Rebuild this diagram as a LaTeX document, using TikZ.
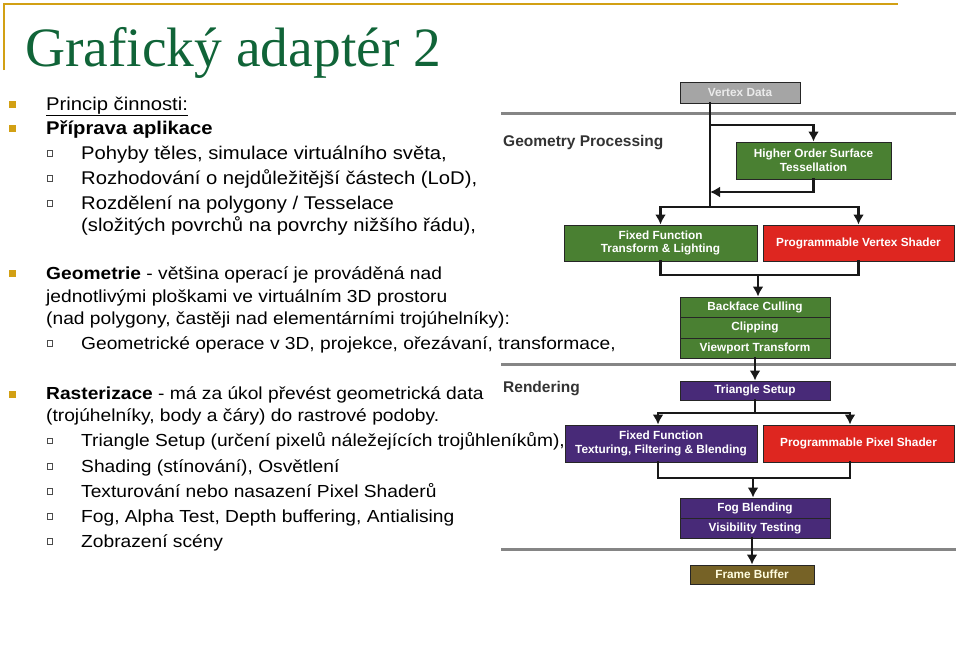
\documentclass[tikz,border=0pt]{standalone}
\usepackage{fontspec}
\setmainfont{Liberation Sans}[FakeStretch=1.1]
\newfontfamily\diagfont{Liberation Sans}
\newfontfamily\titlefont{Liberation Serif}
\usetikzlibrary{arrows.meta}
\definecolor{gold}{RGB}{210,160,20}
\definecolor{titlegreen}{RGB}{16,100,56}
\definecolor{stagegreen}{RGB}{74,128,50}
\definecolor{stagered}{RGB}{222,38,32}
\definecolor{stagepurple}{RGB}{72,42,120}
\definecolor{stagegray}{RGB}{165,165,165}
\definecolor{stageolive}{RGB}{118,98,38}
\begin{document}
\begin{tikzpicture}[x={(1pt,0pt)}, y={(0pt,-1pt)}, >={Latex[length=10pt,width=11pt]}]
  \tikzstyle{stage}=[draw=black!85, line width=1pt, inner sep=0pt, align=center, text=white, font=\diagfont\bfseries\fontsize{11.8}{13.5}\selectfont]
  \tikzstyle{txt}=[anchor=base west, inner sep=0pt, font=\fontsize{17.45}{21}\selectfont]
  \tikzstyle{txtbig}=[txt, font=\fontsize{18.4}{22}\selectfont]
  \tikzstyle{bul}=[fill=gold, minimum size=7pt, inner sep=0pt]
  \tikzstyle{sub}=[draw=black!70, line width=0.8pt, minimum size=5.5pt, inner sep=0pt]
  \tikzstyle{flow}=[line width=2.8pt, black!90, line cap=rect]
  \tikzstyle{divider}=[line width=3pt, black!48]
  \tikzstyle{phase}=[anchor=base west, inner sep=0pt, text=black!80, font=\diagfont\bfseries\fontsize{15.5}{18}\selectfont]

\useasboundingbox (0,0) rectangle (960,653);

\draw[gold, line width=2.5pt] (4,70) -- (4,4) -- (898,4);
\node[anchor=base west, inner sep=0pt, text=titlegreen, font=\titlefont\fontsize{55.5}{60}\selectfont] (title) at (25,66) {Grafický adaptér 2};

\node[bul] (b1) at (12.5,104) {};
\node[txtbig] (l1) at (46,110) {\underline{Princip činnosti:}};
\node[bul] (b2) at (12.5,128.5) {};
\node[txtbig] (l2) at (46,134) {\bfseries Příprava aplikace};
\node[sub] (c1) at (50,153.5) {};
\node[txtbig] (l3) at (81,159) {Pohyby těles, simulace virtuálního světa,};
\node[sub] (c2) at (50,178.5) {};
\node[txtbig] (l4) at (81,184) {Rozhodování o nejdůležitější částech (LoD),};
\node[sub] (c3) at (50,203.5) {};
\node[txtbig] (l5) at (81,209) {Rozdělení na polygony / Tesselace};
\node[txtbig] (l6) at (81,231.5) {(složitých povrchů na povrchy nižšího řádu),};

\node[bul] (b3) at (12.5,273.5) {};
\node[txt] (l7) at (46,279) {\textbf{Geometrie} - většina operací je prováděná nad};
\node[txt] (l8) at (46,302) {jednotlivými ploškami ve virtuálním 3D prostoru};
\node[txt] (l9) at (46,324) {(nad polygony, častěji nad elementárními trojúhelníky):};
\node[sub] (c4) at (50,343.5) {};
\node[txt] (l10) at (81,349) {Geometrické operace v 3D, projekce, ořezávaní, transformace,};

\node[bul] (b4) at (12.5,394) {};
\node[txt] (l11) at (46,399.5) {\textbf{Rasterizace} - má za úkol převést geometrická data};
\node[txt] (l12) at (46,421.5) {(trojúhelníky, body a čáry) do rastrové podoby.};
\node[sub] (c5) at (50,441) {};
\node[txt] (l13) at (81,446.5) {Triangle Setup (určení pixelů náležejících trojůhleníkům),};
\node[sub] (c6) at (50,466.5) {};
\node[txt] (l14) at (81,472) {Shading (stínování), Osvětlení};
\node[sub] (c7) at (50,491.5) {};
\node[txt] (l15) at (81,497) {Texturování nebo nasazení Pixel Shaderů};
\node[sub] (c8) at (50,516.5) {};
\node[txt] (l16) at (81,522) {Fog, Alpha Test, Depth buffering, Antialising};
\node[sub] (c9) at (50,541.5) {};
\node[txt] (l17) at (81,547) {Zobrazení scény};

% pipeline
\draw[divider] (501,113) -- (956,113);
\draw[divider] (501,364) -- (956,364);
\draw[divider] (501,549) -- (956,549);
\node[phase] (gp) at (503,146) {Geometry Processing};
\node[phase] (rd) at (503,392) {Rendering};

\node[stage, fill=stagegray, text=white!92!black, minimum width=120pt, minimum height=21pt] (vd) at (740,92.5) {Vertex Data};
\node[stage, fill=stagegreen, minimum width=155pt, minimum height=37pt] (hos) at (813.5,160.5) {Higher Order Surface\\Tessellation};
\node[stage, fill=stagegreen, minimum width=193pt, minimum height=36pt] (fftl) at (660.5,243) {Fixed Function\\Transform \& Lighting};
\node[stage, fill=stagered, minimum width=191pt, minimum height=36pt] (pvs) at (858.5,243) {Programmable Vertex Shader};
\node[stage, fill=stagegreen, minimum width=150pt, minimum height=20pt] (bc) at (755,307) {Backface Culling};
\node[stage, fill=stagegreen, minimum width=150pt, minimum height=21pt] (cl) at (755,327.5) {Clipping};
\node[stage, fill=stagegreen, minimum width=150pt, minimum height=20pt] (vp) at (755,348) {Viewport Transform};
\node[stage, fill=stagepurple, minimum width=150pt, minimum height=19pt] (ts) at (755,390.5) {Triangle Setup};
\node[stage, fill=stagepurple, minimum width=192pt, minimum height=37pt] (fft) at (661,443.5) {Fixed Function\\Texturing, Filtering \& Blending};
\node[stage, fill=stagered, minimum width=191pt, minimum height=37pt] (pps) at (858.5,443.5) {Programmable Pixel Shader};
\node[stage, fill=stagepurple, minimum width=150pt, minimum height=20pt] (fog) at (755,508) {Fog Blending};
\node[stage, fill=stagepurple, minimum width=150pt, minimum height=20pt] (vis) at (755,528) {Visibility Testing};
\node[stage, fill=stageolive, text=white!88!yellow, minimum width=124pt, minimum height=19pt] (fb) at (752,574.5) {Frame Buffer};

\coordinate (g1) at (710,125);
\coordinate (g2) at (710,192);
\coordinate (g3) at (710,207);
\coordinate (g4) at (758,275);
\draw[flow] (vd.south -| g3) -- (g3);
\draw[flow, ->] (g1) -| (hos.north);
\draw[flow, ->] (hos.south) |- (g2);
\draw[flow] (g3 -| fftl.north) -- (g3 -| pvs.north);
\draw[flow, ->] (g3 -| fftl.north) -- (fftl.north);
\draw[flow, ->] (g3 -| pvs.north) -- (pvs.north);
\draw[flow] (fftl.south) |- (g4) -| (pvs.south);
\draw[flow, ->] (g4) -- (g4 |- bc.north);
\draw[flow, ->] (vp.south) -- (ts.north);

\coordinate (r1) at (658,413);
\coordinate (r2) at (850,413);
\coordinate (r3) at (753,478);
\draw[flow] (ts.south) -- (ts.south |- r1);
\draw[flow] (r1) -- (r2);
\draw[flow, ->] (r1) -- (r1 |- fft.north);
\draw[flow, ->] (r2) -- (r2 |- pps.north);
\draw[flow] (r1 |- fft.south) |- (r3) -| (r2 |- pps.south);
\draw[flow, ->] (r3) -- (r3 |- fog.north);
\draw[flow, ->] (fb.north |- vis.south) -- (fb.north);
\end{tikzpicture}
\end{document}
